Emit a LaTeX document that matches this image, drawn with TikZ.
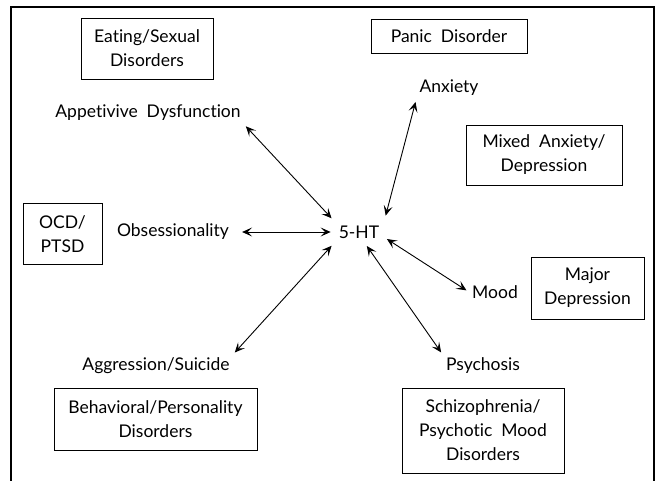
\documentclass[tikz,border=0pt]{standalone}
\usepackage{fontspec}
\setmainfont{Lato}[Ligatures=NoCommon]
\usetikzlibrary{arrows.meta}

\tikzset{
  disbox/.style={draw, line width=1pt, align=center, inner sep=0pt},
  factor/.style={inner sep=3pt, align=center},
  link/.style={{Stealth[length=10pt,width=9pt,inset=4.5pt]}-{Stealth[length=10pt,width=9pt,inset=4.5pt]}, line width=0.9pt, shorten <=3pt, shorten >=3pt}
}

\begin{document}
\begin{tikzpicture}[x=1pt, y=-1pt, font=\fontsize{17.5}{24}\selectfont]
    % Marco
    \useasboundingbox (0,0) rectangle (658,480);
    \draw[line width=1.4pt] (11,482) -- (11,7) -- (654,7) -- (654,482);

    % Centro
    \node[factor, inner sep=5pt] (ht) at (359,232) {5-HT};

    % Dimensiones
    \node[factor] (app) at (148,113) {Appetivive\ \ Dysfunction};
    \node[factor] (anx) at (449,88) {Anxiety};
    \node[factor] (obs) at (173,232) {Obsessionality};
    \node[factor] (mood) at (495,292) {Mood};
    \node[factor] (psy) at (483,366) {Psychosis};
    \node[factor] (agg) at (156,366) {Aggression/Suicide};

    % Trastornos
    \node[disbox, minimum width=132, minimum height=61] (eat) at (147,48.5) {Eating/Sexual\\Disorders};
    \node[disbox, minimum width=156, minimum height=34] (pan) at (449,36) {Panic\ \ Disorder};
    \node[disbox, minimum width=156, minimum height=60] (mix) at (544,155) {Mixed\ \ Anxiety/\\Depression};
    \node[disbox, minimum width=79, minimum height=61] (ocd) at (62.5,234) {OCD/\\PTSD};
    \node[disbox, minimum width=113, minimum height=62] (maj) at (587.5,288) {Major\\Depression};
    \node[disbox, minimum width=162, minimum height=85] (sch) at (483,430.5) {Schizophrenia/\\Psychotic\ \ Mood\\Disorders};
    \node[disbox, minimum width=203, minimum height=62] (beh) at (155.5,419) {Behavioral/Personality\\Disorders};

    % Flechas
    \draw[link] (app.south east) -- (ht.north west);
    \draw[link, shorten >=5pt] (anx.south west) -- (ht.north east);
    \draw[link, shorten <=10pt] (obs.east) -- (ht.west);
    \draw[link] (ht.-12) -- (mood.west);
    \draw[link] (ht.-62) -- (psy.north west);
    \draw[link] (ht.south west) -- (agg.north east);
\end{tikzpicture}
\end{document}
